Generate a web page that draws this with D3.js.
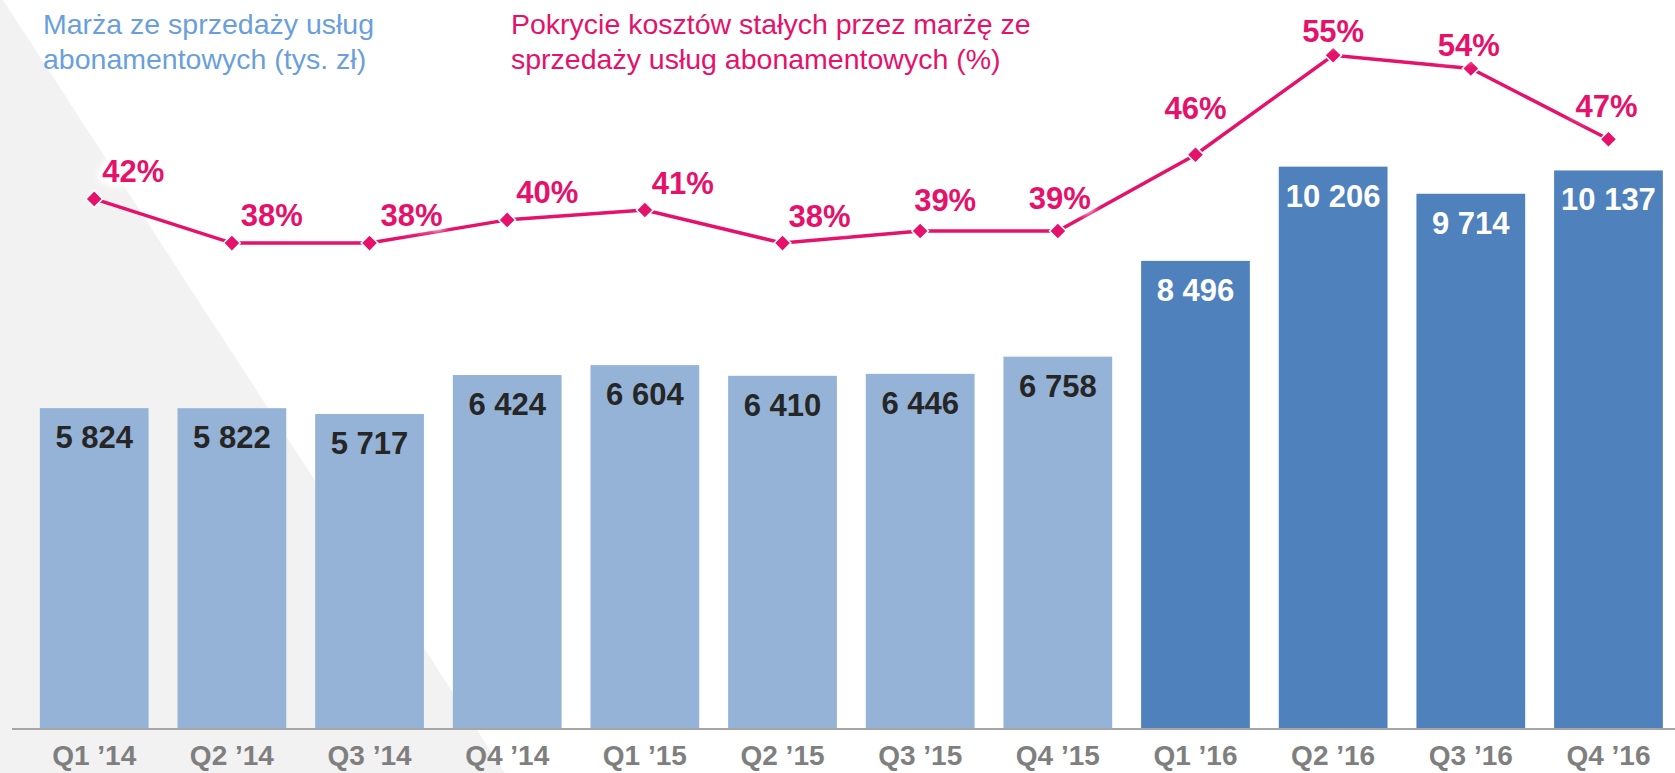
<!DOCTYPE html>
<html>
<head>
<meta charset="utf-8">
<script src="https://cdn.jsdelivr.net/npm/d3@7"></script>
<style>
  html, body { margin: 0; padding: 0; background: #ffffff; }
  svg { display: block; }
</style>
</head>
<body>
<svg id="chart" width="1675" height="773"></svg>
<script>
// ---- data ----
const categories = ["Q1 \u201914", "Q2 \u201914", "Q3 \u201914", "Q4 \u201914",
                    "Q1 \u201915", "Q2 \u201915", "Q3 \u201915", "Q4 \u201915",
                    "Q1 \u201916", "Q2 \u201916", "Q3 \u201916", "Q4 \u201916"];
const marginValues = [5824, 5822, 5717, 6424, 6604, 6410, 6446, 6758, 8496, 10206, 9714, 10137];
const coverageValues = [42, 38, 38, 40.1, 41, 38, 39.1, 39.1, 46, 55, 53.8, 47.4];
const highlightYear = ["2014", "2014", "2014", "2014", "2015", "2015", "2015", "2015", "2016", "2016", "2016", "2016"];
const titleLeft = ["Marża ze sprzedaży usług", "abonamentowych (tys. zł)"];
const titleRight = ["Pokrycie kosztów stałych przez marżę ze", "sprzedaży usług abonamentowych (%)"];

// ---- layout ----
const W = 1675, H = 773;
const FONT = "'Liberation Sans', Arial, Helvetica, sans-serif";
const PINK = "#e5116b";
const BLUE_TITLE = "#6a9fdc";
const LIGHT = "#95b3d7", DARK = "#4f81bd";
const axisY = 729;
// percent-label placement (center dx, baseline dy relative to marker)
const pctLabelShift = [[39,-17],[40,-17],[42,-17],[40,-17],[38,-16],[37,-16],
                       [25,-20],[2,-22],[0,-36],[0,-13],[-2,-13],[-2,-22]];

const svg = d3.select("#chart");

// background grey wedge
svg.append("path")
  .attr("d", "M0,0 L3,0 L505,773 L0,773 Z")
  .attr("fill", "#f2f2f2");

// glow filter for labels
const defs = svg.append("defs");
const f = defs.append("filter").attr("id", "glow").attr("x", "-30%").attr("y", "-30%").attr("width", "160%").attr("height", "160%");
f.append("feGaussianBlur").attr("stdDeviation", 3);

const x = d3.scaleBand()
  .domain(categories)
  .range([25.4, 1677.3])
  .paddingInner(0.21)
  .paddingOuter(0.105);

const y = d3.scaleLinear().domain([0, 12000]).range([axisY, axisY - 12000 * 0.0551]);
const yP = d3.scaleLinear().domain([0, 60]).range([663, 0]);

const bw = x.bandwidth();

// bars
svg.append("g").selectAll("rect")
  .data(categories)
  .join("rect")
  .attr("x", d => x(d))
  .attr("y", (d, i) => y(marginValues[i]))
  .attr("width", bw)
  .attr("height", (d, i) => y(0) - y(marginValues[i]))
  .attr("fill", (d, i) => highlightYear[i] === "2016" ? DARK : LIGHT);

// bar labels
svg.append("g").selectAll("text")
  .data(categories)
  .join("text")
  .attr("x", d => x(d) + bw / 2)
  .attr("y", (d, i) => y(marginValues[i]) + 40)
  .attr("text-anchor", "middle")
  .attr("font-family", FONT)
  .attr("font-weight", "bold")
  .attr("font-size", 31)
  .attr("fill", (d, i) => highlightYear[i] === "2016" ? "#ffffff" : "#262626")
  .text((d, i) => d3.format(",")(marginValues[i]).replace(/,/g, " "));

// x axis
const axis = svg.append("g")
  .attr("transform", `translate(0,${axisY})`)
  .call(d3.axisBottom(x).tickSize(0));
axis.select(".domain").remove();
axis.selectAll("text")
  .attr("y", 36)
  .attr("dy", 0)
  .attr("font-family", FONT)
  .attr("font-weight", "bold")
  .attr("font-size", 28)
  .attr("fill", "#7f7f7f");
svg.append("line")
  .attr("x1", 12).attr("x2", W)
  .attr("y1", axisY).attr("y2", axisY)
  .attr("stroke", "#a6a6a6").attr("stroke-width", 2);

// line
const line = d3.line()
  .x((d, i) => x(categories[i]) + bw / 2)
  .y(d => yP(d));
svg.append("path")
  .datum(coverageValues)
  .attr("d", line)
  .attr("fill", "none")
  .attr("stroke", PINK)
  .attr("stroke-width", 3.5);

// markers
svg.append("g").selectAll("path")
  .data(coverageValues)
  .join("path")
  .attr("d", d3.symbol(d3.symbolSquare, 140))
  .attr("transform", (d, i) => `translate(${x(categories[i]) + bw / 2},${yP(d)}) rotate(45)`)
  .attr("fill", PINK)
  .attr("stroke", "#ffffff")
  .attr("stroke-width", 1.5);

// percent labels (glow + text)
const pl = svg.append("g");
pl.selectAll("text.glow")
  .data(coverageValues)
  .join("text")
  .attr("class", "glow")
  .attr("x", (d, i) => x(categories[i]) + bw / 2 + pctLabelShift[i][0])
  .attr("y", (d, i) => yP(d) + pctLabelShift[i][1])
  .attr("text-anchor", "middle")
  .attr("font-family", FONT)
  .attr("font-weight", "bold")
  .attr("font-size", 31)
  .attr("fill", "#ffffff")
  .attr("stroke", "#ffffff")
  .attr("stroke-width", 10)
  .attr("stroke-linejoin", "round")
  .attr("filter", "url(#glow)")
  .text(d => Math.round(d) + "%");
pl.selectAll("text.lbl")
  .data(coverageValues)
  .join("text")
  .attr("class", "lbl")
  .attr("x", (d, i) => x(categories[i]) + bw / 2 + pctLabelShift[i][0])
  .attr("y", (d, i) => yP(d) + pctLabelShift[i][1])
  .attr("text-anchor", "middle")
  .attr("font-family", FONT)
  .attr("font-weight", "bold")
  .attr("font-size", 31)
  .attr("fill", PINK)
  .text(d => Math.round(d) + "%");

// titles
function title(lines, x0, color) {
  const t = svg.append("text")
    .attr("font-family", FONT)
    .attr("font-size", 28.5)
    .attr("fill", color);
  lines.forEach((s, i) => {
    t.append("tspan").attr("x", x0).attr("y", 33.5 + i * 35).text(s);
  });
}
title(titleLeft, 43, BLUE_TITLE);
title(titleRight, 511, PINK);
</script>
</body>
</html>
